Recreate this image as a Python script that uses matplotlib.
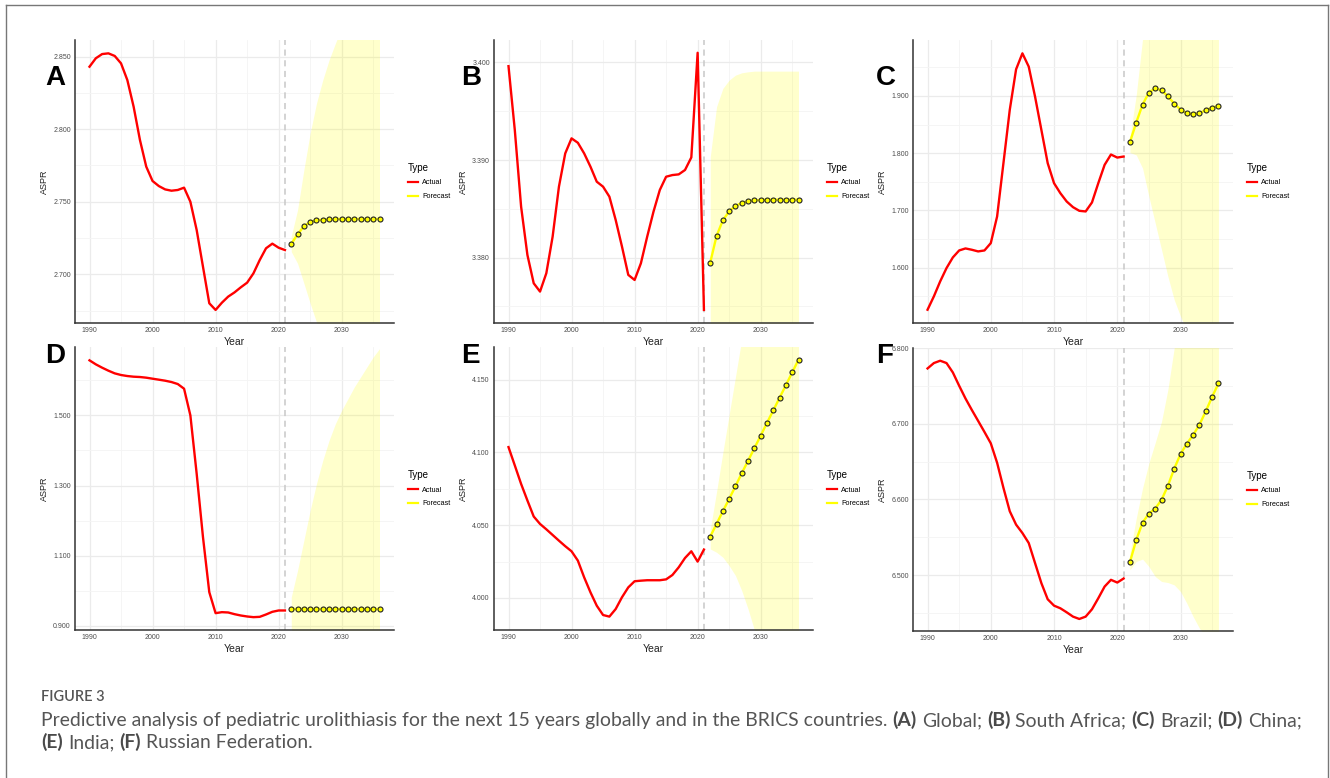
import matplotlib
matplotlib.use("Agg")
import matplotlib.pyplot as plt
from matplotlib.lines import Line2D
from matplotlib.ticker import FixedLocator, FormatStrFormatter

# ---------------- data ----------------
years_actual = list(range(1990, 2022))
years_forecast = list(range(2022, 2037))
year_ticks = [1990, 2000, 2010, 2020, 2030]
year_minor = [1995, 2005, 2015, 2025, 2035]

a_actual = [2.8431, 2.8489, 2.8518, 2.8523, 2.8505, 2.8454, 2.8339, 2.8155, 2.7926, 2.7742,
            2.7643, 2.7608, 2.7585, 2.7576, 2.7581, 2.7597, 2.7500, 2.7305, 2.7052, 2.6800,
            2.6754, 2.6804, 2.6846, 2.6875, 2.6910, 2.6942, 2.7006, 2.7098, 2.7179, 2.7211,
            2.7183, 2.7167]
a_forecast = [2.7209, 2.7275, 2.7330, 2.7360, 2.7372, 2.7376, 2.7379, 2.7381, 2.7381, 2.7381,
              2.7381, 2.7381, 2.7381, 2.7381, 2.7381]
a_upper = [2.7262, 2.7443, 2.7719, 2.7972, 2.8178, 2.8339, 2.8477, 2.8592, 2.8700, 2.8800,
           2.8890, 2.8970, 2.9050, 2.9120, 2.9190]
a_lower = [2.7156, 2.7075, 2.6938, 2.6800, 2.6670, 2.6550, 2.6450, 2.6360, 2.6280, 2.6200,
           2.6130, 2.6060, 2.6000, 2.5940, 2.5880]

b_actual = [3.39962, 3.39307, 3.38522, 3.38027, 3.37737, 3.37652, 3.37840, 3.38215, 3.38727, 3.39068,
            3.39222, 3.39177, 3.39068, 3.38932, 3.38778, 3.38727, 3.38625, 3.38386, 3.38113, 3.37823,
            3.37771, 3.37942, 3.38215, 3.38471, 3.38693, 3.38829, 3.38846, 3.38853, 3.38898, 3.39027,
            3.40099, 3.37464]
b_forecast = [3.37949, 3.38222, 3.38382, 3.38474, 3.38529, 3.38560, 3.38577, 3.38587, 3.38590, 3.38594,
              3.38594, 3.38594, 3.38594, 3.38594, 3.38594]
b_upper = [3.39034, 3.39546, 3.39734, 3.39819, 3.39870, 3.39894, 3.39904, 3.39911, 3.39911, 3.39911,
           3.39911, 3.39911, 3.39911, 3.39911, 3.39911]
b_lower = [3.36864, 3.36898, 3.37030, 3.37129, 3.37188, 3.37226, 3.37250, 3.37263, 3.37269, 3.37277,
           3.37277, 3.37277, 3.37277, 3.37277, 3.37277]

c_actual = [1.5267, 1.5500, 1.5762, 1.5994, 1.6180, 1.6302, 1.6337, 1.6314, 1.6285, 1.6302,
            1.6430, 1.6895, 1.7826, 1.8756, 1.9465, 1.9744, 1.9512, 1.8988, 1.8407, 1.7826,
            1.7477, 1.7302, 1.7157, 1.7058, 1.6994, 1.6983, 1.7140, 1.7477, 1.7797, 1.7977,
            1.7924, 1.7942]
c_forecast = [1.8192, 1.8535, 1.8849, 1.9058, 1.9134, 1.9099, 1.8994, 1.8866, 1.8762, 1.8698,
              1.8680, 1.8703, 1.8750, 1.8797, 1.8826]
c_upper = [1.8280, 1.9017, 2.0000, 2.0600, 2.1000, 2.1300, 2.1550, 2.1750, 2.1950, 2.2100,
           2.2250, 2.2400, 2.2550, 2.2700, 2.2850]
c_lower = [1.8012, 1.7970, 1.7738, 1.7244, 1.6779, 1.6314, 1.5849, 1.5442, 1.5151, 1.4900,
           1.4700, 1.4500, 1.4300, 1.4100, 1.3900]

d_actual = [1.6568, 1.6454, 1.6359, 1.6273, 1.6197, 1.6150, 1.6121, 1.6102, 1.6093, 1.6074,
            1.6045, 1.6017, 1.5988, 1.5950, 1.5893, 1.5760, 1.5000, 1.3337, 1.1532, 0.9964,
            0.9366, 0.9394, 0.9385, 0.9337, 0.9299, 0.9271, 0.9252, 0.9261, 0.9328, 0.9404,
            0.9442, 0.9442]
d_forecast = [0.9470] * 15
d_upper = [0.9822, 1.0582, 1.1437, 1.2292, 1.3052, 1.3717, 1.4287, 1.4762, 1.5143, 1.5475,
           1.5808, 1.6093, 1.6378, 1.6663, 1.6900]
d_lower = [0.8930, 0.8360, 0.7500, 0.6650, 0.5890, 0.5220, 0.4650, 0.4180, 0.3800, 0.3460,
           0.3130, 0.2850, 0.2560, 0.2280, 0.2040]

e_actual = [4.1037, 4.0911, 4.0784, 4.0670, 4.0560, 4.0509, 4.0472, 4.0433, 4.0394, 4.0356,
            4.0321, 4.0257, 4.0142, 4.0039, 3.9947, 3.9883, 3.9872, 3.9924, 4.0005, 4.0073,
            4.0115, 4.0119, 4.0122, 4.0122, 4.0122, 4.0128, 4.0158, 4.0211, 4.0275, 4.0321,
            4.0250, 4.0333]
e_forecast = [4.0422, 4.0509, 4.0596, 4.0681, 4.0768, 4.0858, 4.0943, 4.1030, 4.1115, 4.1204,
              4.1289, 4.1376, 4.1463, 4.1550, 4.1638]
e_upper = [4.0470, 4.0730, 4.1000, 4.1260, 4.1520, 4.1780, 4.2000, 4.2200, 4.2380, 4.2550,
           4.2710, 4.2870, 4.3020, 4.3170, 4.3310]
e_lower = [4.0337, 4.0314, 4.0280, 4.0222, 4.0154, 4.0050, 3.9924, 3.9780, 3.9620, 3.9470,
           3.9330, 3.9190, 3.9060, 3.8930, 3.8800]

f_actual = [6.7730, 6.7801, 6.7832, 6.7801, 6.7677, 6.7501, 6.7333, 6.7182, 6.7037, 6.6891,
            6.6741, 6.6484, 6.6153, 6.5844, 6.5667, 6.5556, 6.5424, 6.5159, 6.4894, 6.4681,
            6.4597, 6.4562, 6.4509, 6.4452, 6.4421, 6.4452, 6.4549, 6.4695, 6.4849, 6.4938,
            6.4902, 6.4955]
f_forecast = [6.5172, 6.5464, 6.5693, 6.5813, 6.5879, 6.5994, 6.6179, 6.6405, 6.6599, 6.6736,
              6.6851, 6.6988, 6.7165, 6.7355, 6.7532]
f_upper = [6.5290, 6.5750, 6.6150, 6.6480, 6.6750, 6.7030, 6.7450, 6.8000, 6.8400, 6.8700,
           6.9000, 6.9300, 6.9600, 6.9900, 7.0200]
f_lower = [6.5070, 6.5180, 6.5212, 6.5114, 6.4982, 6.4916, 6.4902, 6.4871, 6.4783, 6.4628,
           6.4452, 6.4297, 6.4190, 6.4000, 6.3800]

panel_letters = ["A", "B", "C", "D", "E", "F"]
y_limits = [(2.6664, 2.8615), (3.3733, 3.4023), (1.5035, 1.9977),
            (0.8886, 1.6948), (3.978, 4.1725), (6.4262, 6.800)]
y_ticks = [[2.700, 2.750, 2.800, 2.850],
           [3.380, 3.390, 3.400],
           [1.600, 1.700, 1.800, 1.900],
           [0.900, 1.100, 1.300, 1.500],
           [4.000, 4.050, 4.100, 4.150],
           [6.500, 6.600, 6.700, 6.800]]
y_minor = [[2.675, 2.725, 2.775, 2.825],
           [3.375, 3.385, 3.395],
           [1.550, 1.650, 1.750, 1.850, 1.950],
           [1.000, 1.200, 1.400, 1.600],
           [4.025, 4.075, 4.125],
           [6.450, 6.550, 6.650, 6.750]]
legend_labels = ["Actual", "Forecast"]
caption_title = "FIGURE 3"
caption_line1 = [("Predictive analysis of pediatric urolithiasis for the next 15 years globally and in the BRICS countries.", False),
                 ("(A)", True), ("Global;", False), ("(B)", True), ("South Africa;", False),
                 ("(C)", True), ("Brazil;", False), ("(D)", True), ("China;", False)]
caption_line2 = [("(E)", True), ("India;", False), ("(F)", True), ("Russian Federation.", False)]

panels = [
    (a_actual, a_forecast, a_upper, a_lower),
    (b_actual, b_forecast, b_upper, b_lower),
    (c_actual, c_forecast, c_upper, c_lower),
    (d_actual, d_forecast, d_upper, d_lower),
    (e_actual, e_forecast, e_upper, e_lower),
    (f_actual, f_forecast, f_upper, f_lower),
]

# ---------------- layout ----------------
W, H = 1330, 778
plt.rcParams["font.family"] = ["Liberation Sans", "DejaVu Sans"]
fig = plt.figure(figsize=(W / 100, H / 100), dpi=100)
fig.patch.set_facecolor("white")

def fx(px):
    return px / W

def fy(py):
    return 1 - py / H

# axes boxes in pixel coordinates: (left, top, right, bottom)
boxes = [(75, 40, 394, 323), (494, 40, 813, 323), (913, 40, 1233, 323),
         (75, 347, 394, 630), (494, 347, 813, 630), (913, 348, 1233, 631)]
letter_pos = [(45, 78), (461, 78), (876, 78), (45, 356), (461, 356), (876, 356)]

RED = "#FF0000"
YEL = "#FFFF00"

for i, (act, fc, up, lo) in enumerate(panels):
    l, t, r, b = boxes[i]
    ax = fig.add_axes([fx(l), fy(b), (r - l) / W, (b - t) / H])
    ax.set_xlim(1987.7, 2038.3)
    ax.set_ylim(*y_limits[i])
    ax.xaxis.set_major_locator(FixedLocator(year_ticks))
    ax.xaxis.set_minor_locator(FixedLocator(year_minor))
    ax.yaxis.set_major_locator(FixedLocator(y_ticks[i]))
    ax.yaxis.set_minor_locator(FixedLocator(y_minor[i]))
    ax.yaxis.set_major_formatter(FormatStrFormatter("%.3f"))
    ax.grid(True, which="major", color="#EBEBEB", lw=0.9)
    ax.grid(True, which="minor", color="#F4F4F4", lw=0.6)
    ax.set_axisbelow(True)
    for s in ["top", "right"]:
        ax.spines[s].set_visible(False)
    for s in ["left", "bottom"]:
        ax.spines[s].set_color("#333333")
        ax.spines[s].set_linewidth(1.1)
    ax.tick_params(which="both", length=0, labelsize=5, labelcolor="#4D4D4D", pad=3)

    ax.fill_between(years_forecast, lo, up, color=YEL, alpha=0.2, lw=0, zorder=1)
    ax.axvline(2021, color="#C8C8C8", lw=1.1, ls=(0, (4, 3)), zorder=2)
    ax.plot(years_actual, act, color=RED, lw=1.7, zorder=3)
    ax.plot(years_forecast, fc, color=YEL, lw=1.7, zorder=3)
    ax.plot(years_forecast, fc, ls="none", marker="o", ms=3.6, mfc=YEL, mec="#222222",
            mew=0.8, zorder=4)

    ax.set_xlabel("Year", fontsize=7.5, color="#222222", labelpad=2)
    ax.set_ylabel("ASPR", fontsize=6.5, color="#222222", labelpad=3)

    handles = [Line2D([], [], color=RED, lw=1.6), Line2D([], [], color=YEL, lw=1.6)]
    ax.legend(handles, legend_labels, title="Type", loc="center left",
              bbox_to_anchor=(1 + 7 / (r - l), 0.5), frameon=False,
              fontsize=5.2, title_fontsize=7, handlelength=1.4, handletextpad=0.6,
              labelspacing=0.9, alignment="left")

    lx, ly = letter_pos[i]
    fig.text(fx(lx), fy(ly), panel_letters[i], fontsize=20, fontweight="bold",
             ha="left", va="center", color="black")

# figure frame
fig.add_artist(Line2D([fx(6), fx(6)], [fy(5), 0], color="#777777", lw=1.0))
fig.add_artist(Line2D([fx(6), fx(1328)], [fy(5), fy(5)], color="#777777", lw=1.0))
fig.add_artist(Line2D([fx(1328), fx(1328)], [fy(5), 0], color="#777777", lw=1.0))

# caption
CAP = ["Lato", "DejaVu Sans"]
CAP_X = 41
renderer = fig.canvas.get_renderer()

def text_width(s, weight, size):
    t = fig.text(0, 0, s, fontsize=size, family=CAP, fontweight=weight)
    w = t.get_window_extent(renderer).width
    t.remove()
    return w

# fit "FIGURE 3" to ~63 px width
tw = text_width(caption_title, "semibold", 10)
fig.text(fx(CAP_X), fy(701), caption_title, fontsize=10 * 63 / tw, color="#555555", family=CAP,
         fontweight="semibold", ha="left", va="baseline")

def line_width(segments, size):
    sp = text_width("a a", "normal", size) - text_width("aa", "normal", size)
    total = sum(text_width(s, "bold" if b else "normal", size) for s, b in segments)
    return total + sp * (len(segments) - 1)

CAP_SIZE = 12 * 1251 / line_width(caption_line1, 12)
space_w = text_width("a a", "normal", CAP_SIZE) - text_width("aa", "normal", CAP_SIZE)

def draw_line(segments, x0, base_y):
    x = x0
    for s, bold in segments:
        wgt = "bold" if bold else "normal"
        fig.text(fx(x), fy(base_y), s, fontsize=CAP_SIZE, family=CAP, fontweight=wgt,
                 color="#4A4A4A" if bold else "#555555", ha="left", va="baseline")
        x += text_width(s, wgt, CAP_SIZE) + space_w

draw_line(caption_line1, CAP_X, 726)
draw_line(caption_line2, CAP_X, 748)

fig.savefig("out.png", dpi=100, facecolor="white")
